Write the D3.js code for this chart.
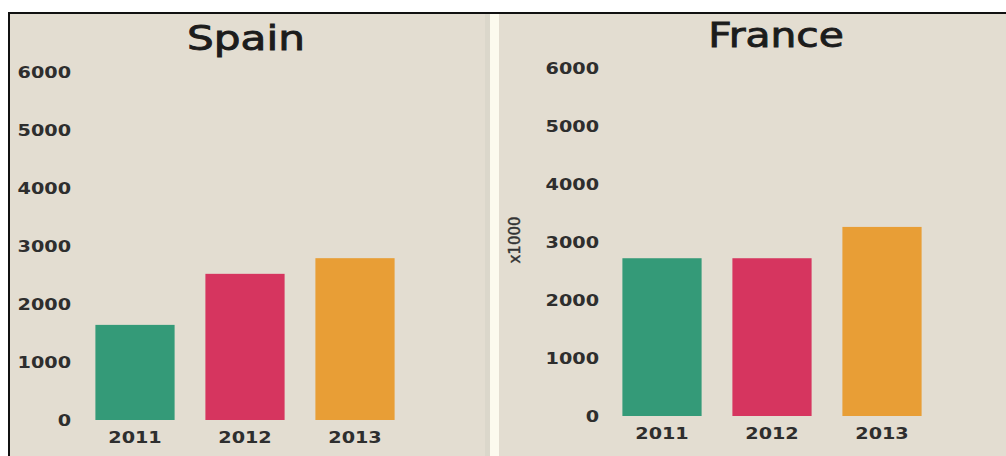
<!DOCTYPE html>
<html>
<head>
<meta charset="utf-8">
<script src="https://cdn.jsdelivr.net/npm/d3@7"></script>
<style>
  html, body { margin: 0; padding: 0; background: #ffffff; }
  svg { display: block; }
</style>
</head>
<body>
<svg id="chart" width="1006" height="456"></svg>
<script>
// Yearly totals per country (in thousands)
const years = ["2011", "2012", "2013"];
const spainValues = [1640, 2520, 2790];
const franceValues = [2720, 2720, 3260];
const yTicks = [0, 1000, 2000, 3000, 4000, 5000, 6000];
const barColors = ["#349a78", "#d6355f", "#e89e36"];
const unitLabel = "x1000";

const W = 1006, H = 456;
const BG = "#e3ddd1";
const TEXT = "#2e2e2e";
const STRETCH = 1.2; // wide letterforms

const svg = d3.select("#chart");

// page frame
svg.append("rect").attr("x", 9).attr("y", 13).attr("width", W - 9).attr("height", H - 13).attr("fill", BG);
svg.append("line").attr("x1", 8).attr("x2", W).attr("y1", 13).attr("y2", 13).attr("stroke", "#111").attr("stroke-width", 2);
svg.append("line").attr("x1", 9).attr("x2", 9).attr("y1", 12).attr("y2", H).attr("stroke", "#111").attr("stroke-width", 2);

// separator between the two panels
svg.append("rect").attr("x", 485).attr("y", 14).attr("width", 5).attr("height", H - 14).attr("fill", "#dbd7cb");
svg.append("rect").attr("x", 490).attr("y", 14).attr("width", 9).attr("height", H - 14).attr("fill", "#fcfaee");

function widen(sel, factor) {
  sel.each(function () {
    const len = this.getComputedTextLength();
    d3.select(this).attr("textLength", len * factor).attr("lengthAdjust", "spacingAndGlyphs");
  });
}

function panel(opts) {
  const g = svg.append("g");
  const y = d3.scaleLinear().domain([0, 6000]).range([opts.base, opts.top]);
  const x = d3.scaleBand().domain(years).range(opts.xRange).paddingInner(0.28).paddingOuter(0.14);

  // title
  const t = g.append("text")
    .attr("x", opts.titleX).attr("y", opts.titleY)
    .attr("text-anchor", "middle")
    .attr("font-family", "DejaVu Sans, sans-serif")
    .attr("font-size", 34)
    .attr("fill", "#1c1c1c")
    .attr("stroke", "#1c1c1c")
    .attr("stroke-width", 0.9)
    .text(opts.title);
  widen(t, opts.titleStretch);

  // value axis, labels only
  const ay = g.append("g")
    .attr("transform", `translate(${opts.axisX},0)`)
    .call(d3.axisLeft(y).tickValues(yTicks).tickSize(0).tickPadding(0).tickFormat(d3.format("d")));
  ay.select(".domain").remove();
  ay.selectAll("text")
    .attr("font-family", "DejaVu Sans, sans-serif")
    .attr("font-weight", "bold")
    .attr("font-size", 16)
    .attr("fill", TEXT);
  widen(ay.selectAll("text"), STRETCH);

  // bars
  g.selectAll("rect.bar")
    .data(opts.values)
    .join("rect")
    .attr("class", "bar")
    .attr("x", (d, i) => x(years[i]))
    .attr("width", x.bandwidth())
    .attr("y", d => y(d))
    .attr("height", d => y(0) - y(d))
    .attr("fill", (d, i) => barColors[i]);

  // category axis, labels only
  const ax = g.append("g")
    .attr("transform", `translate(0,${opts.base + opts.yearGap})`)
    .call(d3.axisBottom(x).tickSize(0).tickPadding(0));
  ax.select(".domain").remove();
  ax.selectAll("text")
    .attr("dy", "0.35em")
    .attr("font-family", "DejaVu Sans, sans-serif")
    .attr("font-weight", "bold")
    .attr("font-size", 16)
    .attr("fill", TEXT);
  widen(ax.selectAll("text"), STRETCH);

  if (opts.unit) {
    g.append("text")
      .attr("transform", `translate(${opts.unitX},${opts.unitY}) rotate(-90)`)
      .attr("text-anchor", "middle")
      .attr("dy", "0.35em")
      .attr("font-family", "DejaVu Sans, sans-serif")
      .attr("font-size", 15)
      .attr("fill", "#333")
      .attr("stroke", "#333")
      .attr("stroke-width", 0.4)
      .text(opts.unit);
  }
}

panel({
  title: "Spain", titleX: 246, titleY: 50, titleStretch: 1.24,
  values: spainValues,
  base: 420, top: 72,
  xRange: [80, 410],
  axisX: 71,
  yearGap: 17
});

panel({
  title: "France", titleX: 776, titleY: 47, titleStretch: 1.2,
  values: franceValues,
  base: 416, top: 68,
  xRange: [607, 937],
  axisX: 599,
  yearGap: 17,
  unit: unitLabel, unitX: 515, unitY: 240
});
</script>
</body>
</html>
